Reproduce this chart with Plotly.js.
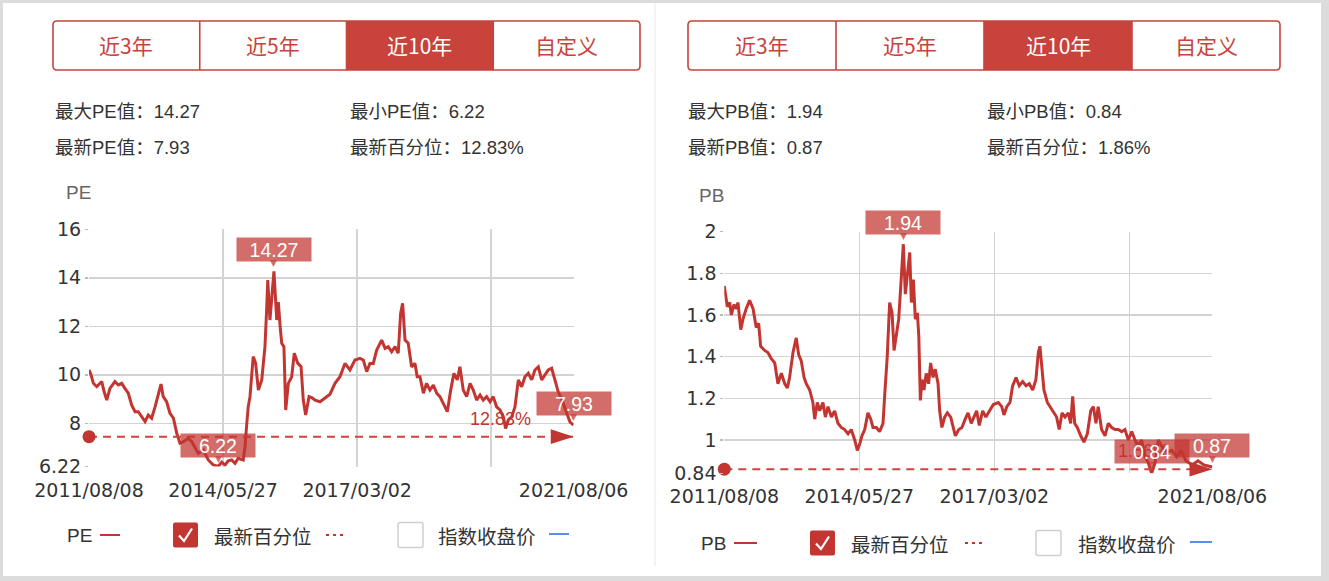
<!DOCTYPE html>
<html><head><meta charset="utf-8">
<script src="https://cdn.plot.ly/plotly-3.0.1.min.js"></script>
<style>html,body{margin:0;padding:0;background:#dcdcdc;overflow:hidden}#chart{width:1329px;height:581px}</style>
</head><body><div id="chart"></div>
<script>
// ---------- data ----------
const rangeButtons = ['近3年', '近5年', '近10年', '自定义'];
const activeButton = 2;
const tickIdx = [0, 672, 1344, 2016, 2429];            // trading-day index of each date label
const tickLabels = ['2011/08/08', '2014/05/27', '2017/03/02', '', '2021/08/06'];
const legendLabels = ['最新百分位', '指数收盘价'];

const peIdx = [0,8,22,39,55,64,76,89,105,118,130,147,164,180,197,214,231,247,264,281,297,314,331,347,361,372,389,406,423,440,456,473,498,515,531,548,573,598,623,648,665,682,698,715,732,748,773,782,790,798,807,815,823,835,849,866,882,890,896,907,919,927,941,949,958,966,977,986,999,1016,1029,1046,1063,1074,1086,1103,1118,1133,1158,1183,1208,1233,1258,1283,1308,1333,1358,1375,1392,1408,1425,1442,1467,1484,1500,1517,1534,1550,1562,1572,1584,1600,1617,1634,1645,1659,1676,1692,1709,1726,1743,1759,1784,1796,1813,1829,1846,1859,1876,1893,1910,1926,1943,1960,1976,1993,2010,2026,2043,2060,2077,2088,2102,2119,2135,2152,2169,2185,2202,2219,2235,2252,2269,2286,2302,2319,2336,2352,2369,2391,2411,2429];
const peValues = [10.2,10.05,9.65,9.51,9.65,9.72,9.3,8.96,9.44,9.6,9.72,9.58,9.65,9.44,9.24,8.75,8.48,8.48,8.27,8.07,8.34,8.21,8.68,9.24,9.62,9.1,8.89,8.41,8.21,7.59,7.18,7.24,7.38,7.24,7.03,6.76,6.9,6.49,6.28,6.22,6.4,6.28,6.45,6.49,6.35,6.56,6.49,7.03,7.9,8.68,9.1,9.9,10.75,10.48,9.37,9.79,11.16,12.6,13.91,12.26,13.6,14.27,12.26,13.0,12.0,11.3,11.16,8.55,9.65,9.92,10.89,10.48,10.34,8.96,8.34,9.1,9.05,8.96,8.89,9.03,9.2,9.65,9.92,10.47,10.2,10.61,10.68,10.61,10.13,10.47,10.47,11.02,11.43,11.09,11.16,10.95,11.16,10.89,12.53,12.95,11.43,11.3,10.33,10.47,9.92,9.92,9.24,9.65,9.37,9.58,9.24,9.1,8.68,8.48,9.37,10.06,9.79,10.33,9.37,9.1,9.65,9.37,8.96,9.17,8.96,9.1,8.89,9.1,8.68,8.55,8.27,7.79,8.14,8.27,8.68,9.79,9.51,9.92,10.06,9.79,10.2,10.33,9.79,10.0,10.2,10.27,9.79,9.3,9.0,8.5,8.05,7.93];

const pbIdx = [0,5,15,27,35,48,60,68,82,93,109,126,143,159,171,181,201,217,234,251,267,284,301,314,325,342,358,370,383,397,408,425,441,450,463,475,491,503,516,533,549,566,582,599,616,632,649,662,674,685,699,715,729,740,757,773,790,798,811,823,835,845,856,868,881,891,901,911,923,931,941,951,961,968,976,984,994,1005,1017,1027,1039,1050,1064,1072,1083,1097,1110,1127,1138,1150,1167,1183,1199,1213,1229,1239,1256,1269,1286,1302,1319,1339,1364,1381,1392,1406,1422,1435,1452,1468,1485,1502,1518,1535,1551,1563,1571,1580,1591,1608,1621,1637,1654,1667,1681,1696,1712,1724,1734,1744,1757,1774,1790,1807,1824,1837,1850,1861,1878,1895,1911,1928,1945,1961,1978,1994,2011,2028,2044,2060,2077,2094,2110,2127,2144,2160,2177,2202,2227,2252,2273,2298,2328,2358,2387,2429];
const pbValues = [1.74,1.70,1.64,1.66,1.60,1.65,1.63,1.66,1.53,1.58,1.63,1.67,1.63,1.54,1.56,1.45,1.43,1.42,1.39,1.37,1.27,1.32,1.27,1.25,1.30,1.42,1.49,1.41,1.38,1.30,1.27,1.24,1.18,1.10,1.18,1.14,1.18,1.11,1.16,1.11,1.14,1.08,1.06,1.05,1.03,1.05,1.00,0.95,0.98,1.02,1.05,1.13,1.10,1.06,1.06,1.04,1.08,1.21,1.40,1.66,1.61,1.43,1.51,1.58,1.78,1.94,1.70,1.78,1.90,1.66,1.77,1.58,1.61,1.50,1.19,1.29,1.24,1.32,1.27,1.37,1.30,1.34,1.27,1.14,1.06,1.11,1.13,1.11,1.06,1.02,1.05,1.06,1.10,1.13,1.08,1.10,1.14,1.07,1.14,1.11,1.14,1.17,1.18,1.16,1.12,1.16,1.18,1.26,1.30,1.26,1.28,1.26,1.27,1.24,1.29,1.42,1.45,1.34,1.24,1.18,1.16,1.13,1.11,1.05,1.13,1.11,1.13,1.08,1.21,1.08,1.06,1.02,0.99,1.03,1.14,1.16,1.08,1.16,1.05,1.02,1.08,1.06,1.05,1.05,1.04,1.05,1.00,1.04,1.00,0.97,1.00,0.92,0.89,0.84,0.89,1.00,0.97,0.94,0.95,0.92,0.95,0.90,0.88,0.90,0.88,0.87];

const peTicks = [6.22, 8, 10, 12, 14, 16];
const pbTicks = [0.84, 1, 1.2, 1.4, 1.6, 1.8, 2];
const peStatLabels = ['最大PE值：14.27', '最小PE值：6.22', '最新PE值：7.93', '最新百分位：12.83%'];
const pbStatLabels = ['最大PB值：1.94', '最小PB值：0.84', '最新PB值：0.87', '最新百分位：1.86%'];
const pePercentileLevel = 7.45, pbPercentileLevel = 0.86;
const pePercentText = '12.83%', pbPercentText = '1.86%';

// ---------- styling / geometry ----------
const W = 1329, H = 581;
const RED = '#c23531', BOXRED = 'rgba(194,53,49,0.72)', BTNRED = '#c8433b';
const LATIN = 'Liberation Sans, Arial, Noto Sans CJK SC, sans-serif';
const CJK = 'Noto Sans CJK SC, sans-serif';
const TICKF = 'DejaVu Sans, Noto Sans CJK SC, sans-serif';
const px = x => x / W, py = y => 1 - y / H;

function rr(x0, y0, x1, y1, r) {
  const P = (x, y) => px(x) + ',' + py(y);
  return 'M' + P(x0 + r, y0) + ' L' + P(x1 - r, y0) + ' Q' + P(x1, y0) + ' ' + P(x1, y0 + r) +
    ' L' + P(x1, y1 - r) + ' Q' + P(x1, y1) + ' ' + P(x1 - r, y1) + ' L' + P(x0 + r, y1) +
    ' Q' + P(x0, y1) + ' ' + P(x0, y1 - r) + ' L' + P(x0, y0 + r) + ' Q' + P(x0, y0) + ' ' + P(x0 + r, y0) + ' Z';
}

const panels = [
  { name: 'PE', xa: 'x', ya: 'y', plot: [89, 573.6, 229.3, 466.5], btn: [53, 640, 21, 70],
    statX: [53, 348], statY: [111.5, 147], title: [64, 193], legY: 535,
    leg: { name: 65, l: [100, 120], cb: 173, t1: 212, d: [326, 347], ub: 398, t2: 436, b: [549, 569] },
    idx: peIdx, vals: peValues, ticks: peTicks, stats: peStatLabels,
    level: pePercentileLevel, pct: pePercentText },
  { name: 'PB', xa: 'x2', ya: 'y2', plot: [724.3, 1212.3, 231.7, 473.3], btn: [688, 1280, 21, 70],
    statX: [686, 985], statY: [111.5, 147], title: [697, 195], legY: 543,
    leg: { name: 699, l: [734, 757], cb: 810, t1: 849, d: [965, 986], ub: 1036, t2: 1076, b: [1190, 1212] },
    idx: pbIdx, vals: pbValues, ticks: pbTicks, stats: pbStatLabels,
    level: pbPercentileLevel, pct: pbPercentText }
];

const traces = [], shapes = [], annotations = [];
const layout = {
  width: W, height: H, margin: { l: 0, r: 0, t: 0, b: 0 },
  paper_bgcolor: '#dcdcdc', plot_bgcolor: '#ffffff', showlegend: false,
  shapes, annotations
};

// white card
shapes.push({ type: 'rect', xref: 'paper', yref: 'paper', x0: px(3), x1: px(1321), y0: py(576), y1: py(3),
  fillcolor: '#ffffff', line: { width: 0 }, layer: 'below' });
shapes.push({ type: 'line', xref: 'paper', yref: 'paper', x0: px(655), x1: px(655), y0: py(566), y1: py(3),
  line: { color: '#f1f1f1', width: 1.5 }, layer: 'below' });

panels.forEach((p, k) => {
  const sfx = k === 0 ? '' : '2';
  const xKey = 'xaxis' + sfx, yKey = 'yaxis' + sfx;
  const last = p.idx.length - 1;
  layout[xKey] = {
    domain: [px(p.plot[0]), px(p.plot[1])], range: [p.idx[0], p.idx[last]], anchor: p.ya,
    tickmode: 'array', tickvals: tickIdx, ticktext: tickLabels,
    showgrid: true, gridcolor: '#d3d3d3', gridwidth: 1.5, zeroline: false, showline: false,
    ticks: '', ticklabelstandoff: 10, tickfont: { family: TICKF, size: 19, color: '#333' }, fixedrange: true
  };
  layout[yKey] = {
    domain: [py(p.plot[3]), py(p.plot[2])], range: [p.ticks[0], p.ticks[p.ticks.length - 1]], anchor: p.xa,
    tickmode: 'array', tickvals: p.ticks, ticktext: p.ticks.map(String),
    showgrid: true, gridcolor: '#d3d3d3', gridwidth: 1.5, zeroline: false, showline: false,
    ticks: 'outside', ticklen: 3, tickwidth: 1.5, tickcolor: '#bbbbbb',
    tickfont: { family: TICKF, size: 19, color: '#333' }, fixedrange: true
  };

  // main line
  traces.push({ type: 'scatter', mode: 'lines', x: p.idx, y: p.vals, xaxis: p.xa, yaxis: p.ya,
    line: { color: RED, width: 3 }, hoverinfo: 'skip' });
  // percentile mark line
  traces.push({ type: 'scatter', mode: 'lines', x: [p.idx[0], p.idx[last]], y: [p.level, p.level],
    xaxis: p.xa, yaxis: p.ya, cliponaxis: false,
    line: { color: '#d4423b', width: 2, dash: '8px,6px' }, hoverinfo: 'skip' });
  // start dot
  traces.push({ type: 'scatter', mode: 'markers', x: [p.idx[0]], y: [p.level], xaxis: p.xa, yaxis: p.ya,
    cliponaxis: false, marker: { symbol: 'circle', size: 13, color: RED, line: { width: 0 } }, hoverinfo: 'skip' });
  // end arrow (tip on the last index)
  traces.push({ type: 'scatter', mode: 'markers', x: [p.idx[last]], y: [p.level], xaxis: p.xa, yaxis: p.ya,
    cliponaxis: false, marker: { symbol: 'arrow', size: 24, angle: 90, color: RED, line: { width: 0 } },
    hoverinfo: 'skip' });

  // percent text (end label of the mark line)
  annotations.push({ xref: p.xa, yref: p.ya, x: p.idx[last], y: p.level, text: p.pct, showarrow: false,
    xanchor: 'right', yanchor: 'middle', xshift: -41, yshift: 18,
    font: { family: LATIN, size: 18, color: RED } });

  // max / min / latest labels
  const vmax = Math.max(...p.vals), vmin = Math.min(...p.vals);
  const marks = [
    [p.idx[p.vals.indexOf(vmax)], vmax],
    [p.idx[p.vals.indexOf(vmin)], vmin],
    [p.idx[last], p.vals[last]]
  ];
  marks.forEach(([mx, my]) => {
    annotations.push({ xref: p.xa, yref: p.ya, x: mx, y: my, text: '▼', showarrow: false,
      xanchor: 'center', yanchor: 'bottom', yshift: 1, font: { family: 'DejaVu Sans', size: 9, color: BOXRED } });
    annotations.push({ xref: p.xa, yref: p.ya, x: mx, y: my, text: my.toFixed(2), showarrow: false,
      xanchor: 'center', yanchor: 'bottom', yshift: 9, width: 74, height: 23, borderpad: 0,
      bgcolor: BOXRED, font: { family: LATIN, size: 19.5, color: '#ffffff' } });
  });

  // axis title
  annotations.push({ xref: 'paper', yref: 'paper', x: px(p.title[0]), y: py(p.title[1]), text: p.name,
    showarrow: false, xanchor: 'left', yanchor: 'middle', font: { family: LATIN, size: 19, color: '#666' } });

  // range buttons
  const [b0, b1, bt, bb] = p.btn, seg = (b1 - b0) / rangeButtons.length;
  shapes.push({ type: 'rect', xref: 'paper', yref: 'paper',
    x0: px(b0 + seg * activeButton), x1: px(b0 + seg * (activeButton + 1)), y0: py(bb), y1: py(bt),
    fillcolor: BTNRED, line: { width: 0 } });
  shapes.push({ type: 'path', xref: 'paper', yref: 'paper', path: rr(b0, bt, b1, bb, 4),
    line: { color: BTNRED, width: 1.6 } });
  for (let i = 1; i < rangeButtons.length; i++) {
    shapes.push({ type: 'line', xref: 'paper', yref: 'paper', x0: px(b0 + seg * i), x1: px(b0 + seg * i),
      y0: py(bb), y1: py(bt), line: { color: BTNRED, width: 1.6 } });
  }
  rangeButtons.forEach((t, i) => {
    annotations.push({ xref: 'paper', yref: 'paper', x: px(b0 + seg * (i + 0.5)), y: py((bt + bb) / 2),
      text: t, showarrow: false, xanchor: 'center', yanchor: 'middle',
      font: { family: CJK, size: 21, color: i === activeButton ? '#ffffff' : BTNRED } });
  });

  // stats
  p.stats.forEach((t, i) => {
    annotations.push({ xref: 'paper', yref: 'paper', x: px(p.statX[i % 2]), y: py(p.statY[Math.floor(i / 2)]),
      text: t, showarrow: false, xanchor: 'left', yanchor: 'middle',
      font: { family: LATIN, size: 18.5, color: '#333' } });
  });

  // legend
  const L = p.leg, ly = p.legY;
  annotations.push({ xref: 'paper', yref: 'paper', x: px(L.name), y: py(ly), text: p.name, showarrow: false,
    xanchor: 'left', yanchor: 'middle', font: { family: LATIN, size: 19, color: '#333' } });
  shapes.push({ type: 'line', xref: 'paper', yref: 'paper', x0: px(L.l[0]), x1: px(L.l[1]), y0: py(ly), y1: py(ly),
    line: { color: RED, width: 2 } });
  shapes.push({ type: 'path', xref: 'paper', yref: 'paper', path: rr(L.cb, ly - 12.5, L.cb + 25, ly + 12.5, 2),
    fillcolor: RED, line: { width: 0 } });
  shapes.push({ type: 'path', xref: 'paper', yref: 'paper',
    path: 'M' + px(L.cb + 6) + ',' + py(ly + 0.5) + ' L' + px(L.cb + 11) + ',' + py(ly + 6) +
      ' L' + px(L.cb + 19) + ',' + py(ly - 6.5),
    line: { color: '#ffffff', width: 2.2 } });
  annotations.push({ xref: 'paper', yref: 'paper', x: px(L.t1), y: py(ly), text: legendLabels[0], showarrow: false,
    xanchor: 'left', yanchor: 'middle', font: { family: CJK, size: 19.5, color: '#333' } });
  shapes.push({ type: 'line', xref: 'paper', yref: 'paper', x0: px(L.d[0]), x1: px(L.d[1]), y0: py(ly), y1: py(ly),
    line: { color: RED, width: 2, dash: '3px,4px' } });
  shapes.push({ type: 'path', xref: 'paper', yref: 'paper', path: rr(L.ub, ly - 12.5, L.ub + 25, ly + 12.5, 2),
    fillcolor: '#ffffff', line: { color: '#cfcfcf', width: 1.5 } });
  annotations.push({ xref: 'paper', yref: 'paper', x: px(L.t2), y: py(ly), text: legendLabels[1], showarrow: false,
    xanchor: 'left', yanchor: 'middle', font: { family: CJK, size: 19.5, color: '#333' } });
  shapes.push({ type: 'line', xref: 'paper', yref: 'paper', x0: px(L.b[0]), x1: px(L.b[1]), y0: py(ly - 1), y1: py(ly - 1),
    line: { color: '#5b8def', width: 2 } });
});

Plotly.newPlot('chart', traces, layout, { staticPlot: true, displayModeBar: false });
</script></body></html>
